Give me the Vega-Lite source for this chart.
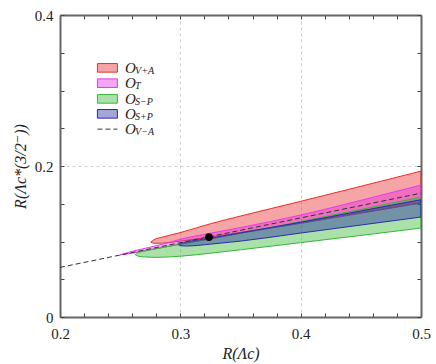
{
  "$schema": "https://vega.github.io/schema/vega-lite/v6.json",
  "width": 361,
  "height": 302,
  "autosize": {"type": "none"},
  "padding": {"left": 60, "top": 15, "right": 15, "bottom": 47},
  "background": "white",
  "config": {"view": {"stroke": null}, "font": "'Liberation Serif', 'DejaVu Serif', serif"},
  "datasets": {
    "regions": [
      {"s": "V+A", "x": 0.2755, "lo": 0.0993, "hi": 0.0993},
      {"s": "V+A", "x": 0.278, "lo": 0.0976, "hi": 0.1022},
      {"s": "V+A", "x": 0.285, "lo": 0.0978, "hi": 0.1058},
      {"s": "V+A", "x": 0.3, "lo": 0.1005, "hi": 0.1118},
      {"s": "V+A", "x": 0.325, "lo": 0.106, "hi": 0.1235},
      {"s": "V+A", "x": 0.35, "lo": 0.112, "hi": 0.1337},
      {"s": "V+A", "x": 0.4, "lo": 0.125, "hi": 0.1532},
      {"s": "V+A", "x": 0.45, "lo": 0.138, "hi": 0.1731},
      {"s": "V+A", "x": 0.5, "lo": 0.1513, "hi": 0.1932},
      {"s": "T", "x": 0.25, "lo": 0.0823, "hi": 0.0823},
      {"s": "T", "x": 0.26, "lo": 0.0845, "hi": 0.087},
      {"s": "T", "x": 0.275, "lo": 0.089, "hi": 0.0925},
      {"s": "T", "x": 0.29, "lo": 0.0935, "hi": 0.0985},
      {"s": "T", "x": 0.3, "lo": 0.0965, "hi": 0.103},
      {"s": "T", "x": 0.325, "lo": 0.1035, "hi": 0.111},
      {"s": "T", "x": 0.35, "lo": 0.111, "hi": 0.1185},
      {"s": "T", "x": 0.4, "lo": 0.124, "hi": 0.135},
      {"s": "T", "x": 0.45, "lo": 0.1375, "hi": 0.1545},
      {"s": "T", "x": 0.5, "lo": 0.151, "hi": 0.1747},
      {"s": "S−P", "x": 0.2625, "lo": 0.0825, "hi": 0.0825},
      {"s": "S−P", "x": 0.265, "lo": 0.0806, "hi": 0.0852},
      {"s": "S−P", "x": 0.27, "lo": 0.0796, "hi": 0.0873},
      {"s": "S−P", "x": 0.28, "lo": 0.079, "hi": 0.0905},
      {"s": "S−P", "x": 0.3, "lo": 0.0805, "hi": 0.0965},
      {"s": "S−P", "x": 0.325, "lo": 0.0845, "hi": 0.104},
      {"s": "S−P", "x": 0.35, "lo": 0.089, "hi": 0.111},
      {"s": "S−P", "x": 0.4, "lo": 0.0985, "hi": 0.1265},
      {"s": "S−P", "x": 0.45, "lo": 0.108, "hi": 0.1425},
      {"s": "S−P", "x": 0.5, "lo": 0.1178, "hi": 0.1588},
      {"s": "S+P", "x": 0.2985, "lo": 0.0955, "hi": 0.0955},
      {"s": "S+P", "x": 0.3, "lo": 0.0944, "hi": 0.0976},
      {"s": "S+P", "x": 0.305, "lo": 0.094, "hi": 0.0995},
      {"s": "S+P", "x": 0.325, "lo": 0.0965, "hi": 0.1045},
      {"s": "S+P", "x": 0.35, "lo": 0.1005, "hi": 0.1115},
      {"s": "S+P", "x": 0.4, "lo": 0.1112, "hi": 0.1255},
      {"s": "S+P", "x": 0.45, "lo": 0.1218, "hi": 0.1405},
      {"s": "S+P", "x": 0.5, "lo": 0.1324, "hi": 0.1553}
    ],
    "vma": [
      {"x": 0.2, "y": 0.0657},
      {"x": 0.5, "y": 0.164}
    ],
    "point": [
      {"x": 0.3238, "y": 0.1059}
    ],
    "legend": [
      {"s": "V+A", "y": 0.330},
      {"s": "T", "y": 0.3097},
      {"s": "S−P", "y": 0.2889},
      {"s": "S+P", "y": 0.2691}
    ],
    "legendline": [
      {"s": "V−A", "y": 0.2488}
    ]
  },
  "resolve": {"axis": {"x": "independent", "y": "independent"}},
  "layer": [
    {
      "data": {"name": "regions"},
      "transform": [{"filter": "datum.s == 'V+A'"}],
      "mark": {"type": "area", "interpolate": "monotone", "fill": "#e61e1e", "fillOpacity": 0.4, "stroke": "#e8302a", "strokeWidth": 1, "clip": true},
      "encoding": {
        "x": {
          "field": "x", "type": "quantitative",
          "scale": {"domain": [0.2, 0.5], "nice": false, "zero": false},
          "axis": {
            "orient": "bottom",
            "values": [0.2, 0.22, 0.24, 0.26, 0.28, 0.3, 0.32, 0.34, 0.36, 0.38, 0.4, 0.42, 0.44, 0.46, 0.48, 0.5],
            "labelExpr": "abs(datum.value*10 - round(datum.value*10)) < 0.001 ? format(datum.value, '.1f') : ''",
            "title": "R(Λc)",
            "titleFont": "'Liberation Serif', 'DejaVu Serif', serif", "titleFontSize": 16, "titleFontWeight": "normal", "titleFontStyle": "italic", "titleColor": "#222", "titlePadding": 4,
            "labelFont": "'Liberation Serif', 'DejaVu Serif', serif", "labelFontSize": 15, "labelColor": "#222", "labelPadding": 13, "labelFlush": false, "labelOverlap": false,
            "tickSize": -4, "tickColor": "#444", "tickWidth": 1,
            "domainColor": "#666", "domainWidth": 2,
            "grid": true, "gridColor": "#cfcfcf", "gridDash": [3, 3], "gridWidth": 1,
            "gridOpacity": {"condition": {"test": "abs(datum.value*10 - round(datum.value*10)) < 0.001", "value": 1}, "value": 0}
          }
        },
        "y": {
          "field": "hi", "type": "quantitative",
          "scale": {"domain": [0, 0.4], "nice": false, "zero": false},
          "axis": {
            "orient": "left",
            "values": [0, 0.05, 0.1, 0.15, 0.2, 0.25, 0.3, 0.35, 0.4],
            "labelExpr": "abs(datum.value*5 - round(datum.value*5)) < 0.001 ? (datum.value == 0 ? '0' : format(datum.value, '.1f')) : ''",
            "title": "R(Λc*(3/2⁻))",
            "titleFont": "'Liberation Serif', 'DejaVu Serif', serif", "titleFontSize": 16, "titleFontWeight": "normal", "titleFontStyle": "italic", "titleColor": "#222", "titlePadding": 6,
            "labelFont": "'Liberation Serif', 'DejaVu Serif', serif", "labelFontSize": 15, "labelColor": "#222", "labelPadding": 11, "labelFlush": false, "labelOverlap": false,
            "tickSize": -4, "tickColor": "#444", "tickWidth": 1,
            "domainColor": "#666", "domainWidth": 2,
            "grid": true, "gridColor": "#cfcfcf", "gridDash": [3, 3], "gridWidth": 1,
            "gridOpacity": {"condition": {"test": "abs(datum.value*5 - round(datum.value*5)) < 0.001", "value": 1}, "value": 0}
          }
        },
        "y2": {"field": "lo"}
      }
    },
    {
      "data": {"name": "regions"},
      "transform": [{"filter": "datum.s == 'T'"}],
      "mark": {"type": "area", "interpolate": "monotone", "fill": "#e61ee6", "fillOpacity": 0.4, "stroke": "#e63ce6", "strokeWidth": 1, "clip": true},
      "encoding": {
        "x": {"field": "x", "type": "quantitative", "axis": null},
        "y": {"field": "hi", "type": "quantitative", "axis": null},
        "y2": {"field": "lo"}
      }
    },
    {
      "data": {"name": "regions"},
      "transform": [{"filter": "datum.s == 'S−P'"}],
      "mark": {"type": "area", "interpolate": "monotone", "fill": "#28b428", "fillOpacity": 0.4, "stroke": "#35b835", "strokeWidth": 1, "clip": true},
      "encoding": {
        "x": {"field": "x", "type": "quantitative", "axis": null},
        "y": {"field": "hi", "type": "quantitative", "axis": null},
        "y2": {"field": "lo"}
      }
    },
    {
      "data": {"name": "regions"},
      "transform": [{"filter": "datum.s == 'S+P'"}],
      "mark": {"type": "area", "interpolate": "monotone", "fill": "#1f1fa0", "fillOpacity": 0.4, "stroke": "#2a2ab0", "strokeWidth": 1, "clip": true},
      "encoding": {
        "x": {"field": "x", "type": "quantitative", "axis": null},
        "y": {"field": "hi", "type": "quantitative", "axis": null},
        "y2": {"field": "lo"}
      }
    },
    {
      "data": {"name": "vma"},
      "mark": {"type": "line", "stroke": "#333", "strokeWidth": 1, "strokeDash": [5, 3], "clip": true},
      "encoding": {
        "x": {
          "field": "x", "type": "quantitative",
          "axis": {
            "orient": "top", "values": [0.2, 0.22, 0.24, 0.26, 0.28, 0.3, 0.32, 0.34, 0.36, 0.38, 0.4, 0.42, 0.44, 0.46, 0.48, 0.5],
            "labels": false, "title": null, "grid": false,
            "tickSize": -4, "tickColor": "#444", "tickWidth": 1,
            "domainColor": "#666", "domainWidth": 2
          }
        },
        "y": {
          "field": "y", "type": "quantitative",
          "axis": {
            "orient": "right", "values": [0, 0.05, 0.1, 0.15, 0.2, 0.25, 0.3, 0.35, 0.4],
            "labels": false, "title": null, "grid": false,
            "tickSize": -4, "tickColor": "#444", "tickWidth": 1,
            "domainColor": "#666", "domainWidth": 2
          }
        }
      }
    },
    {
      "data": {"name": "point"},
      "mark": {"type": "point", "filled": true, "color": "black", "size": 60, "opacity": 1},
      "encoding": {
        "x": {"field": "x", "type": "quantitative", "axis": null},
        "y": {"field": "y", "type": "quantitative", "axis": null}
      }
    },
    {
      "data": {"name": "legend"},
      "mark": {"type": "point", "shape": "M-1,-0.43H1V0.43H-1Z", "size": 400, "filled": false, "fillOpacity": 0.4, "strokeWidth": 1, "opacity": 1},
      "encoding": {
        "x": {"datum": 0.2394, "type": "quantitative", "axis": null},
        "y": {"field": "y", "type": "quantitative", "axis": null},
        "fill": {"field": "s", "type": "nominal", "scale": {"domain": ["V+A", "T", "S−P", "S+P"], "range": ["#e61e1e", "#e61ee6", "#28b428", "#1f1fa0"]}, "legend": null},
        "stroke": {"field": "s", "type": "nominal", "scale": {"domain": ["V+A", "T", "S−P", "S+P"], "range": ["#e8302a", "#e63ce6", "#35b835", "#2a2ab0"]}, "legend": null}
      }
    },
    {
      "data": {"name": "legendline"},
      "mark": {"type": "rule", "stroke": "#333", "strokeWidth": 1, "strokeDash": [5, 3]},
      "encoding": {
        "x": {"datum": 0.2311, "type": "quantitative", "axis": null},
        "x2": {"datum": 0.2477},
        "y": {"field": "y", "type": "quantitative", "axis": null}
      }
    },
    {
      "data": {"name": "legend"},
      "layer": [
        {
          "mark": {"type": "text", "text": "O", "align": "left", "baseline": "middle", "font": "'Liberation Serif', 'DejaVu Serif', serif", "fontStyle": "italic", "fontSize": 15, "color": "#222"},
          "encoding": {
            "x": {"datum": 0.2541, "type": "quantitative", "axis": null},
            "y": {"field": "y", "type": "quantitative", "axis": null}
          }
        },
        {
          "mark": {"type": "text", "align": "left", "baseline": "middle", "dx": 10, "dy": 3, "font": "'Liberation Serif', 'DejaVu Serif', serif", "fontStyle": "italic", "fontSize": 10, "color": "#222"},
          "encoding": {
            "x": {"datum": 0.2541, "type": "quantitative", "axis": null},
            "y": {"field": "y", "type": "quantitative", "axis": null},
            "text": {"field": "s"}
          }
        }
      ]
    },
    {
      "data": {"name": "legendline"},
      "layer": [
        {
          "mark": {"type": "text", "text": "O", "align": "left", "baseline": "middle", "font": "'Liberation Serif', 'DejaVu Serif', serif", "fontStyle": "italic", "fontSize": 15, "color": "#222"},
          "encoding": {
            "x": {"datum": 0.2541, "type": "quantitative", "axis": null},
            "y": {"field": "y", "type": "quantitative", "axis": null}
          }
        },
        {
          "mark": {"type": "text", "align": "left", "baseline": "middle", "dx": 10, "dy": 3, "font": "'Liberation Serif', 'DejaVu Serif', serif", "fontStyle": "italic", "fontSize": 10, "color": "#222"},
          "encoding": {
            "x": {"datum": 0.2541, "type": "quantitative", "axis": null},
            "y": {"field": "y", "type": "quantitative", "axis": null},
            "text": {"field": "s"}
          }
        }
      ]
    }
  ]
}
